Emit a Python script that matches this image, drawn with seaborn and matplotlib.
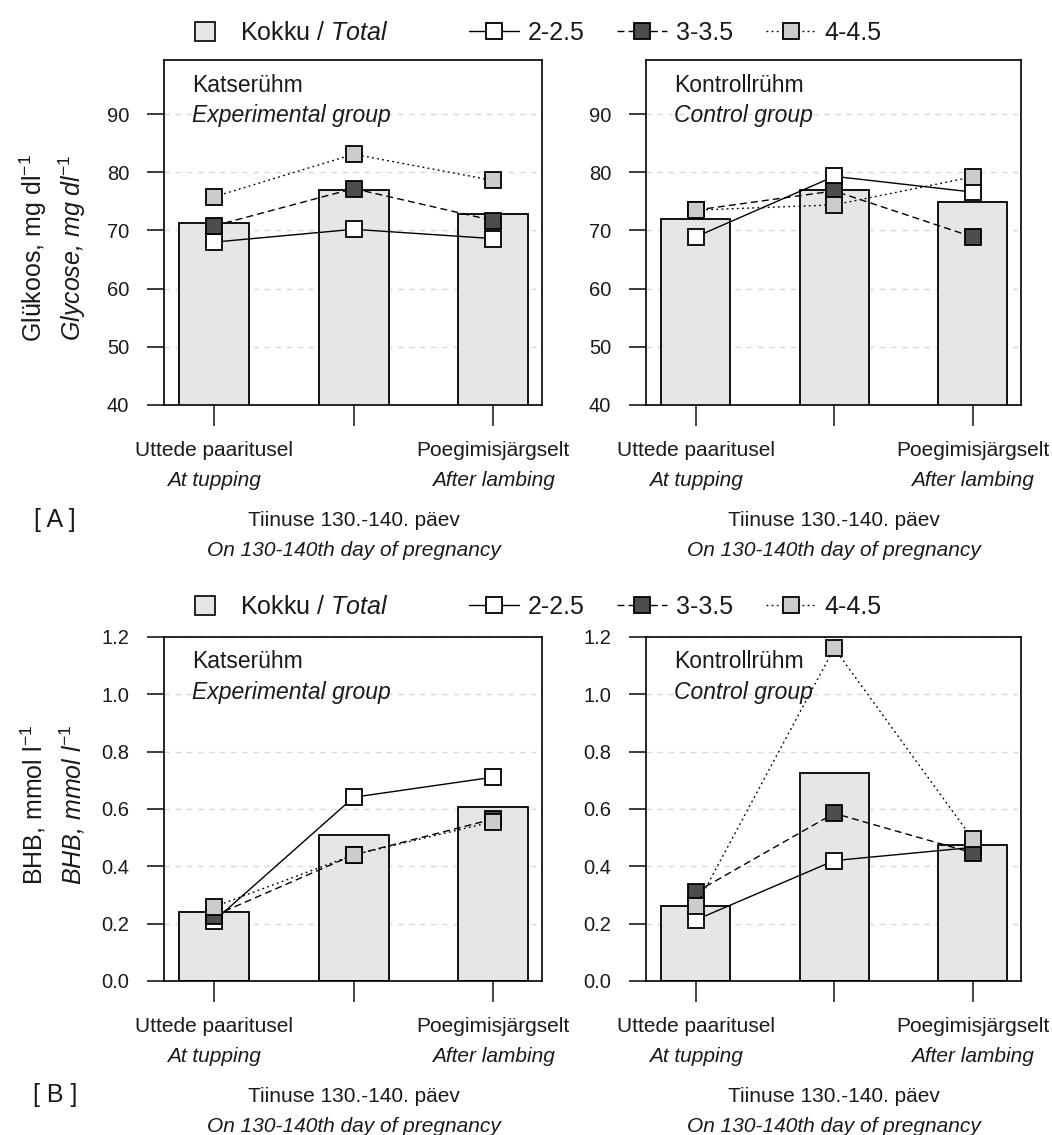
import numpy as np
import matplotlib
matplotlib.use("Agg")
import matplotlib.pyplot as plt
import seaborn as sns
from matplotlib.lines import Line2D
from matplotlib.patches import Patch

# sampling periods (Estonian / English)
periods = ["Uttede paaritusel", "Tiinuse 130.-140. päev", "Poegimisjärgselt"]
periods_en = ["At tupping", "On 130-140th day of pregnancy", "After lambing"]
groups = ["2-2.5", "3-3.5", "4-4.5"]

# glucose, mg/dl
glu_exp_total = [71.3, 76.9, 72.8]
glu_exp_2 = [68.0, 70.2, 68.6]
glu_exp_3 = [70.8, 77.2, 71.7]
glu_exp_4 = [75.8, 83.1, 78.6]
glu_ctrl_total = [72.0, 76.9, 74.9]
glu_ctrl_2 = [68.9, 79.3, 76.6]
glu_ctrl_3 = [73.5, 76.8, 68.9]
glu_ctrl_4 = [73.5, 74.4, 79.2]

# BHB, mmol/l
bhb_exp_total = [0.242, 0.508, 0.606]
bhb_exp_2 = [0.21, 0.641, 0.711]
bhb_exp_3 = [0.228, 0.44, 0.565]
bhb_exp_4 = [0.259, 0.44, 0.556]
bhb_ctrl_total = [0.263, 0.725, 0.475]
bhb_ctrl_2 = [0.213, 0.42, 0.466]
bhb_ctrl_3 = [0.31, 0.585, 0.447]
bhb_ctrl_4 = [0.26, 1.161, 0.496]

sns.set_style("ticks")
plt.rcParams["font.family"] = ["Liberation Sans", "DejaVu Sans"]
plt.rcParams["mathtext.fontset"] = "custom"
plt.rcParams["mathtext.rm"] = "Liberation Sans"
plt.rcParams["mathtext.it"] = "Liberation Sans:italic"
plt.rcParams["text.color"] = "#1a1a1a"

BAR = "#e6e6e6"
STYLES = [
    dict(ls="-", mfc="white"),
    dict(ls=(0, (5, 3)), mfc="#4d4d4d"),
    dict(ls=(0, (1.3, 2.4)), mfc="#cccccc"),
]

W, H = 1052, 1135
fig = plt.figure(figsize=(W / 100, H / 100), dpi=100)


def px_axes(left, top, right, bottom):
    return fig.add_axes([left / W, 1 - bottom / H, (right - left) / W, (bottom - top) / H])


def draw_panel(ax, total, series, ylim, yticks, title, title_en):
    x = np.arange(len(periods))
    ax.yaxis.grid(True, linestyle=(0, (4, 4)), color="#d9d9d9", lw=1.0, zorder=0)
    ax.set_axisbelow(True)
    sns.barplot(x=periods, y=total, color=BAR, saturation=1, width=0.5,
                edgecolor="black", linewidth=1.3, ax=ax, zorder=1)
    for vals, st in zip(series, STYLES):
        sns.lineplot(x=x, y=vals, color="black", lw=1.0, linestyle=st["ls"],
                     marker="s", markersize=12, markerfacecolor=st["mfc"],
                     markeredgecolor="black", markeredgewidth=1.3, ax=ax, zorder=3)
    ax.set_xlim(-0.36, 2.35)
    ax.set_ylim(*ylim)
    ax.set_yticks(yticks)
    ax.set_xticks(x)
    ax.set_xticklabels([])
    ax.set_xlabel("")
    ax.set_ylabel("")
    ax.tick_params(axis="y", length=12, width=1.2, pad=13, labelsize=14.5, colors="#1a1a1a")
    ax.tick_params(axis="x", length=15, width=1.2)
    for sp in ax.spines.values():
        sp.set_visible(True)
        sp.set_linewidth(1.2)
        sp.set_color("black")
    ax.annotate(title, xy=(0, 1), xycoords="axes fraction", xytext=(20, -18),
                textcoords="offset points", ha="left", va="center", fontsize=16.5)
    ax.annotate(title_en, xy=(0, 1), xycoords="axes fraction", xytext=(20, -40),
                textcoords="offset points", ha="left", va="center", fontsize=16.5,
                style="italic")
    # category labels under the axis
    for i, (et, en) in enumerate(zip(periods, periods_en)):
        off = 0 if i != 1 else -51
        ax.annotate(et, xy=(i, 0), xycoords=("data", "axes fraction"),
                    xytext=(0, -32.5 + off), textcoords="offset points",
                    ha="center", va="center", fontsize=15)
        ax.annotate(en, xy=(i, 0), xycoords=("data", "axes fraction"),
                    xytext=(0, -54 + off), textcoords="offset points",
                    ha="center", va="center", fontsize=15, style="italic")


def draw_legend(ycenter):
    fig.legend(handles=[Patch(facecolor=BAR, edgecolor="black", lw=1.2)],
               labels=["Kokku / $\\mathit{Total}$"], loc="center left",
               bbox_to_anchor=(195 / W, 1 - ycenter / H), frameon=False,
               borderaxespad=0, borderpad=0, handlelength=0.8, handleheight=0.8,
               handletextpad=1.0, fontsize=18)
    handles = [Line2D([], [], color="black", lw=1.0, linestyle=st["ls"], marker="s",
                      markersize=11, markerfacecolor=st["mfc"], markeredgecolor="black",
                      markeredgewidth=1.3) for st in STYLES]
    fig.legend(handles=handles, labels=groups, loc="center left", ncol=3,
               bbox_to_anchor=(469 / W, 1 - ycenter / H), frameon=False,
               borderaxespad=0, borderpad=0, handlelength=2.0, handletextpad=0.35,
               columnspacing=1.3, fontsize=18)


# [A] glucose
ax1 = px_axes(164, 60, 542, 405)
ax2 = px_axes(646, 60, 1021, 405)
draw_panel(ax1, glu_exp_total, [glu_exp_2, glu_exp_3, glu_exp_4], (40, 99.3),
           [40, 50, 60, 70, 80, 90], "Katserühm", "Experimental group")
draw_panel(ax2, glu_ctrl_total, [glu_ctrl_2, glu_ctrl_3, glu_ctrl_4], (40, 99.3),
           [40, 50, 60, 70, 80, 90], "Kontrollrühm", "Control group")
draw_legend(33)

# [B] BHB
ax3 = px_axes(164, 637, 542, 981)
ax4 = px_axes(646, 637, 1021, 981)
bticks = [0.0, 0.2, 0.4, 0.6, 0.8, 1.0, 1.2]
draw_panel(ax3, bhb_exp_total, [bhb_exp_2, bhb_exp_3, bhb_exp_4], (0, 1.2),
           bticks, "Katserühm", "Experimental group")
draw_panel(ax4, bhb_ctrl_total, [bhb_ctrl_2, bhb_ctrl_3, bhb_ctrl_4], (0, 1.2),
           bticks, "Kontrollrühm", "Control group")
for ax in (ax3, ax4):
    ax.set_yticklabels([f"{t:.1f}" for t in bticks])
draw_legend(607)

# y axis titles
fig.text(33 / W, 1 - 248 / H, "Glükoos, mg dl$^{-1}$", rotation=90,
         ha="center", va="center", fontsize=18)
fig.text(72 / W, 1 - 248 / H, "Glycose, mg dl$^{\\mathit{-1}}$", rotation=90,
         ha="center", va="center", fontsize=18, style="italic")
fig.text(33 / W, 1 - 805 / H, "BHB, mmol l$^{-1}$", rotation=90,
         ha="center", va="center", fontsize=18)
fig.text(72 / W, 1 - 805 / H, "BHB, mmol l$^{\\mathit{-1}}$", rotation=90,
         ha="center", va="center", fontsize=18, style="italic")

fig.text(55 / W, 1 - 520 / H, "[ A ]", ha="center", va="center", fontsize=18)
fig.text(55 / W, 1 - 1095 / H, "[ B ]", ha="center", va="center", fontsize=18)

fig.savefig("out.png", dpi=100)
